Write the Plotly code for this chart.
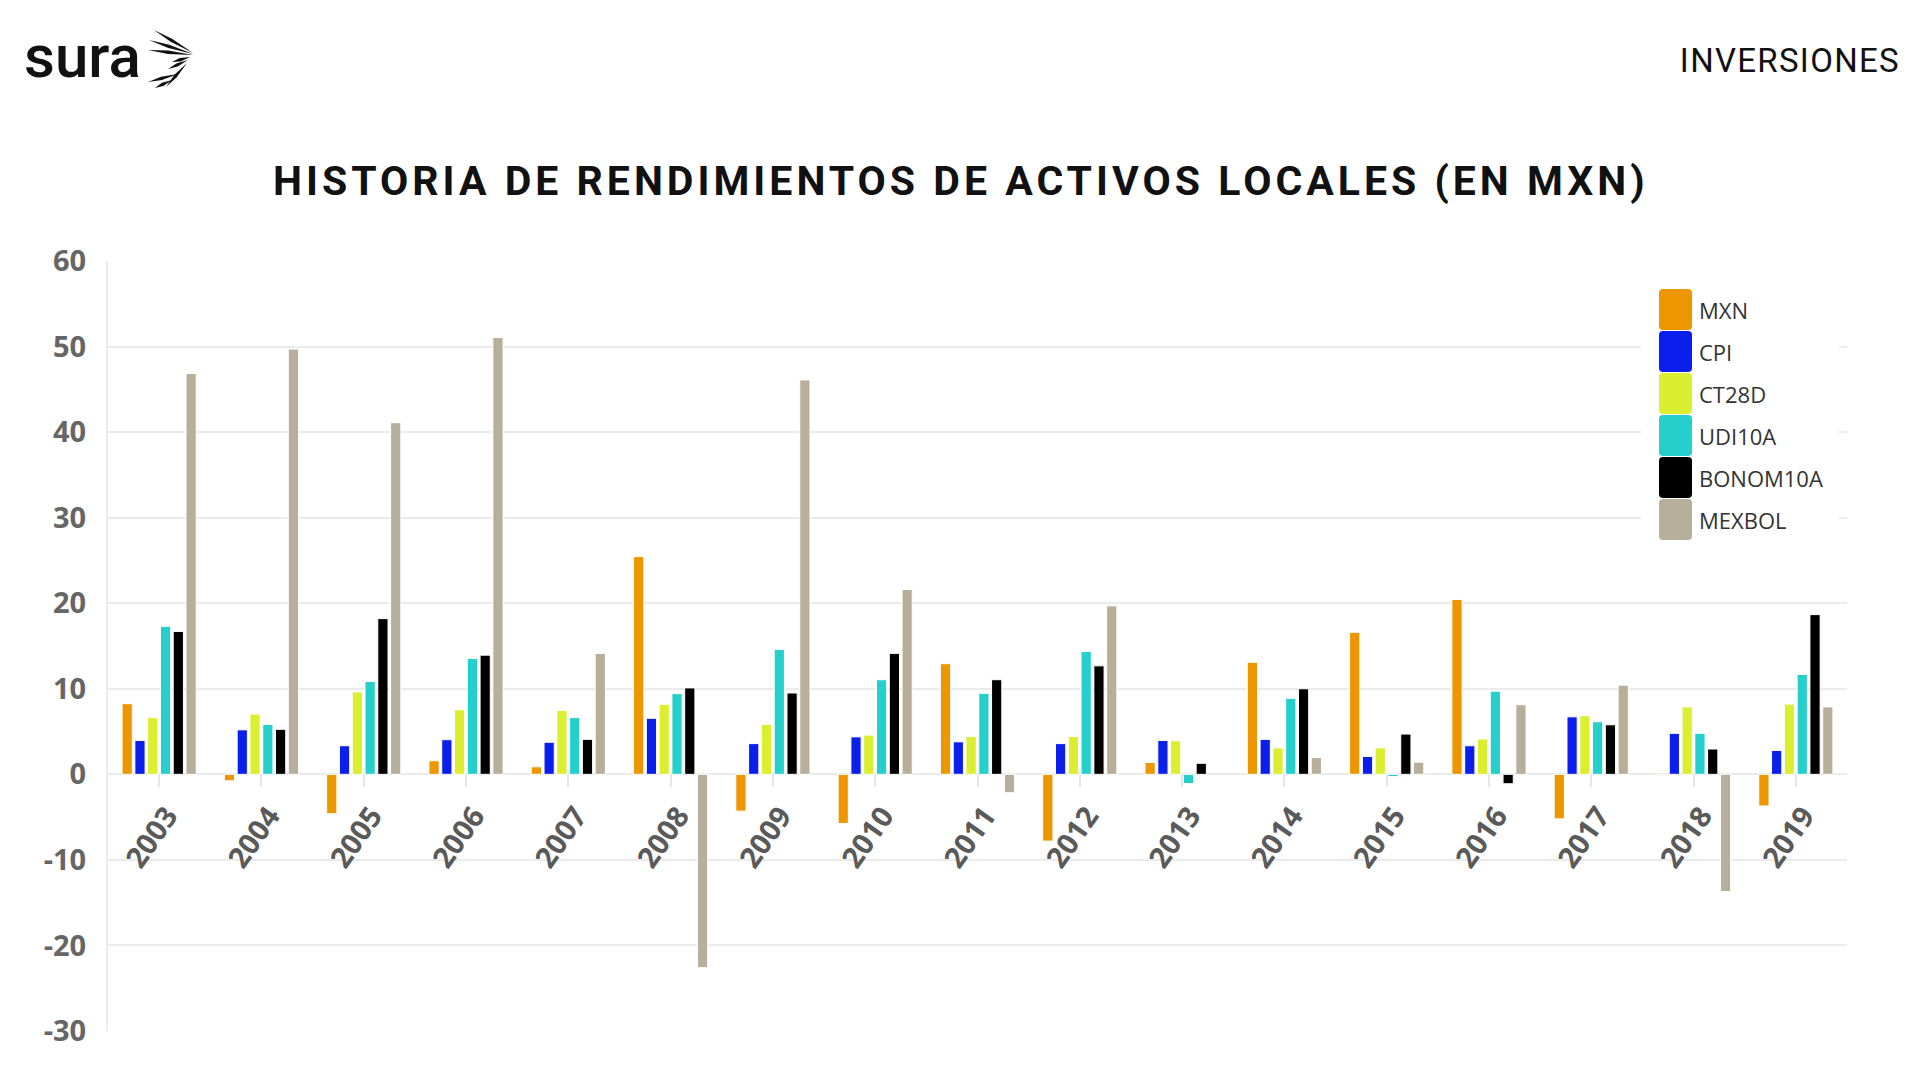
import plotly.graph_objects as go

# ---------------- data ----------------
years = ["2003", "2004", "2005", "2006", "2007", "2008", "2009", "2010", "2011",
         "2012", "2013", "2014", "2015", "2016", "2017", "2018", "2019"]

mxn = [8.26, -0.75, -4.6, 1.59, 0.88, 25.45, -4.3, -5.74, 12.93, -7.8, 1.38, 13.1, 16.6, 20.44, -5.2, -0.1, -3.7]
cpi = [3.96, 5.2, 3.34, 4.05, 3.75, 6.55, 3.59, 4.38, 3.8, 3.59, 3.96, 4.09, 2.09, 3.34, 6.72, 4.79, 2.79]
ct28d = [6.63, 7.05, 9.64, 7.55, 7.47, 8.18, 5.84, 4.59, 4.42, 4.42, 3.92, 3.09, 3.09, 4.13, 6.85, 7.88, 8.21]
udi10a = [17.3, 5.84, 10.85, 13.56, 6.63, 9.43, 14.6, 11.06, 9.47, 14.35, -1.08, 8.89, -0.27, 9.72, 6.15, 4.79, 11.67]
bonom10a = [16.7, 5.26, 18.2, 13.93, 4.09, 10.1, 9.51, 14.14, 11.06, 12.68, 1.29, 10.0, 4.71, -1.1, 5.79, 2.96, 18.67]
mexbol = [46.85, 49.7, 41.1, 51.06, 14.14, -22.6, 46.1, 21.6, -2.15, 19.69, None, 1.96, 1.42, 8.14, 10.42, -13.7, 7.88]

series_names = ["MXN", "CPI", "CT28D", "UDI10A", "BONOM10A", "MEXBOL"]
series_values = [mxn, cpi, ct28d, udi10a, bonom10a, mexbol]
series_colors = ["#EE9600", "#0A1FEB", "#DCEE30", "#25CFCC", "#000000", "#B8AF9B"]

y_ticks = [60, 50, 40, 30, 20, 10, 0, -10, -20, -30]

title_text = "HISTORIA DE RENDIMIENTOS DE ACTIVOS LOCALES (EN MXN)"
header_right = "INVERSIONES"
logo_text = "sura"

# ---------------- layout geometry ----------------
W_FIG, H_FIG = 1920, 1080
L, R, T, B = 108, 1847, 261, 1031
PW, PH = R - L, B - T


def px(x):
    return (x - L) / PW


def py(y):
    return (B - y) / PH


fig = go.Figure()
for name, vals, col in zip(series_names, series_values, series_colors):
    fig.add_trace(go.Bar(
        x=years, y=vals, name=name,
        marker=dict(color=col, line=dict(color="white", width=1)),
        showlegend=False,
    ))

shapes = []
annotations = []

# legend background (hides grid lines behind the legend)
shapes.append(dict(type="rect", xref="paper", yref="paper",
                   x0=px(1641), x1=px(1839), y0=py(556), y1=py(272),
                   fillcolor="white", line=dict(width=0), layer="above"))


def rounded_rect(x0, y0, x1, y1, r):
    pts = [
        f"M{px(x0 + r)},{py(y0)}",
        f"L{px(x1 - r)},{py(y0)}",
        f"Q{px(x1)},{py(y0)} {px(x1)},{py(y0 + r)}",
        f"L{px(x1)},{py(y1 - r)}",
        f"Q{px(x1)},{py(y1)} {px(x1 - r)},{py(y1)}",
        f"L{px(x0 + r)},{py(y1)}",
        f"Q{px(x0)},{py(y1)} {px(x0)},{py(y1 - r)}",
        f"L{px(x0)},{py(y0 + r)}",
        f"Q{px(x0)},{py(y0)} {px(x0 + r)},{py(y0)}",
        "Z",
    ]
    return " ".join(pts)


# custom legend built from series names / colours
leg_top, leg_step = 289, 42
for i, (name, col) in enumerate(zip(series_names, series_colors)):
    y0 = leg_top + i * leg_step
    y1 = y0 + leg_step - 1
    shapes.append(dict(type="path", xref="paper", yref="paper",
                       path=rounded_rect(1659, y0, 1692, y1, 4),
                       fillcolor=col, line=dict(width=0), layer="above"))
    annotations.append(dict(xref="paper", yref="paper", x=px(1697), y=py((y0 + y1) / 2),
                            text=name, showarrow=False, xanchor="left", yanchor="middle",
                            font=dict(family="Open Sans", size=22, color="#333333")))

# header texts
annotations.append(dict(xref="paper", yref="paper", x=px(961), y=py(181), text=title_text,
                        showarrow=False, xanchor="center", yanchor="middle",
                        font=dict(family="Roboto", size=41, color="#111111", weight=700)))
annotations.append(dict(xref="paper", yref="paper", x=px(1895), y=py(61), text=header_right,
                        showarrow=False, xanchor="right", yanchor="middle",
                        font=dict(family="Roboto", size=33, color="#111111")))
annotations.append(dict(xref="paper", yref="paper", x=px(22), y=py(57), text=logo_text,
                        showarrow=False, xanchor="left", yanchor="middle",
                        font=dict(family="Roboto", size=60, color="#111111", weight=500)))

# logo wing strokes (decoration)
strokes = [
    (154, 30, 193, 53), (149, 40, 193, 54), (148, 50, 193, 55),
    (172, 62, 190, 57), (168, 69, 188, 60), (148, 82, 178, 74),
    (155, 88, 172, 80), (166, 87, 187, 63),
]
for (x1, y1, x2, y2) in strokes:
    dx, dy = x2 - x1, y2 - y1
    ln = (dx * dx + dy * dy) ** 0.5
    nx, ny = -dy / ln * 1.7, dx / ln * 1.7
    mx, my = x1 + dx * 0.45, y1 + dy * 0.45
    path = (f"M{px(x1)},{py(y1)} L{px(mx + nx)},{py(my + ny)} "
            f"L{px(x2)},{py(y2)} L{px(mx - nx)},{py(my - ny)} Z")
    shapes.append(dict(type="path", xref="paper", yref="paper", path=path,
                       fillcolor="#111111", line=dict(width=0), layer="above"))

fig.update_layout(
    width=W_FIG, height=H_FIG,
    margin=dict(l=L, r=W_FIG - R, t=T, b=H_FIG - B, pad=0),
    paper_bgcolor="white", plot_bgcolor="white",
    barmode="group", bargap=0.25, bargroupgap=0.2,
    shapes=shapes, annotations=annotations,
    showlegend=False,
    xaxis=dict(
        type="category", anchor="free", position=1 / 3,
        showgrid=False, showline=False, zeroline=False,
        ticks="outside", ticklen=12, tickwidth=2, tickcolor="#e6e6e6",
        tickangle=-55, ticklabelshift=8,
        tickfont=dict(family="Open Sans", size=29, color="#5a5a5a", weight=700),
    ),
    yaxis=dict(
        range=[-30, 60], tickvals=y_ticks, ticktext=[str(v) for v in y_ticks],
        showgrid=True, gridcolor="#ebebeb", gridwidth=2,
        zeroline=True, zerolinecolor="#ebebeb", zerolinewidth=2,
        showline=True, linecolor="#ebebeb", linewidth=2,
        ticks="", ticklabelstandoff=14,
        tickfont=dict(family="Open Sans", size=29, color="#666666", weight=700),
    ),
)

post = """
document.body.style.margin = '0';
document.body.style.overflow = 'hidden';
function fixSpacing() {
  var texts = document.querySelectorAll('text.annotation-text');
  texts.forEach(function (t) {
    if (t.textContent.indexOf('HISTORIA') === 0) { t.style.letterSpacing = '4px'; }
    if (t.textContent === 'INVERSIONES') { t.style.letterSpacing = '1.3px'; }
  });
}
fixSpacing();
setTimeout(fixSpacing, 50);
setTimeout(fixSpacing, 300);
"""

fig.write_html("out.html", post_script=post, config={"displayModeBar": False})
